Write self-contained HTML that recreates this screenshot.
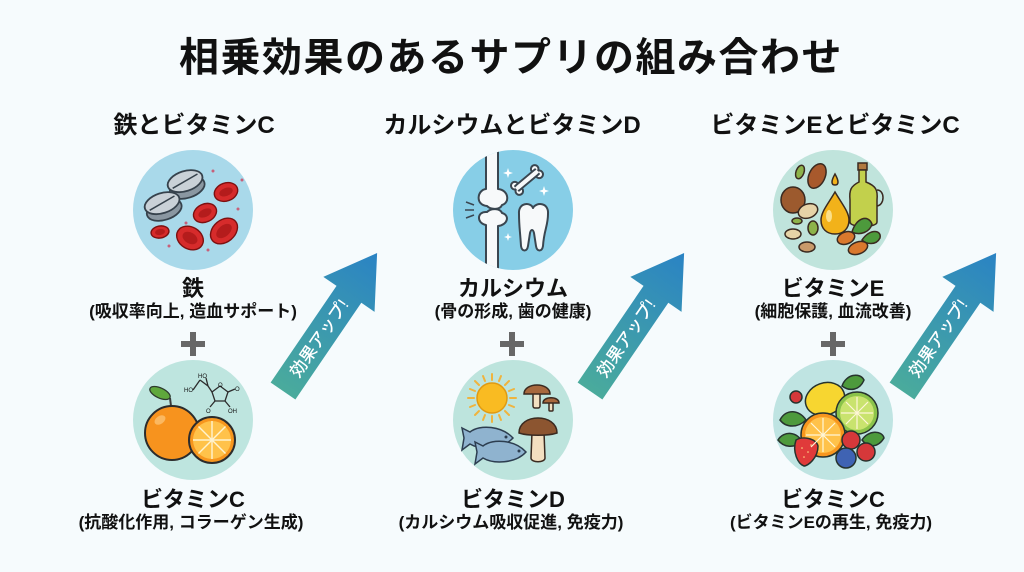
<!DOCTYPE html>
<html><head><meta charset="utf-8">
<style>
html,body{margin:0;padding:0;background:#f6fbfd;}
svg{display:block;}
text{font-family:"Liberation Sans","Noto Sans CJK JP",sans-serif;font-weight:bold;fill:#111;}
</style></head><body>
<svg width="1024" height="572" viewBox="0 0 1024 572" xmlns="http://www.w3.org/2000/svg">
<defs>
<linearGradient id="ag" gradientUnits="userSpaceOnUse" x1="0" y1="0" x2="167" y2="0">
<stop offset="0" stop-color="#4aab9c"/><stop offset="1" stop-color="#2a83c4"/>
</linearGradient>
<clipPath id="c2t"><circle cx="513" cy="210" r="60"/></clipPath>
</defs>
<rect width="1024" height="572" fill="#f6fbfd"/>

<!-- Title -->
<text x="511" y="71" text-anchor="middle" font-size="40" letter-spacing="1.5">相乗効果のあるサプリの組み合わせ</text>

<!-- Subheads -->
<text x="194" y="133" text-anchor="middle" font-size="24">鉄とビタミンC</text>
<text x="512" y="133" text-anchor="middle" font-size="24">カルシウムとビタミンD</text>
<text x="835" y="133" text-anchor="middle" font-size="24">ビタミンEとビタミンC</text>

<!-- ============ Column 1 top: iron ============ -->
<circle cx="193" cy="210" r="60" fill="#a9d9ea"/>
<g stroke="#36424c" stroke-width="1.8">
  <g transform="rotate(-18 186 184)">
    <rect x="168" y="181" width="36" height="7" fill="#8a97a1" stroke="none"/>
    <ellipse cx="186" cy="188" rx="18" ry="10" fill="#8a97a1"/>
    <ellipse cx="186" cy="181" rx="18" ry="10" fill="#c9d1d7"/>
    <line x1="172" y1="184" x2="200" y2="178" stroke-width="1.5"/>
  </g>
  <g transform="rotate(-18 163 206)">
    <rect x="145" y="203" width="36" height="7" fill="#8a97a1" stroke="none"/>
    <ellipse cx="163" cy="210" rx="18" ry="10" fill="#8a97a1"/>
    <ellipse cx="163" cy="203" rx="18" ry="10" fill="#c9d1d7"/>
    <line x1="149" y1="206" x2="177" y2="200" stroke-width="1.5"/>
  </g>
</g>
<g stroke="#7d1010" stroke-width="1.4">
  <ellipse cx="226" cy="192" rx="12" ry="9" fill="#d62b2b" transform="rotate(-20 226 192)"/>
  <ellipse cx="205" cy="213" rx="12" ry="9" fill="#d62b2b" transform="rotate(-25 205 213)"/>
  <ellipse cx="224" cy="231" rx="15" ry="11" fill="#d62b2b" transform="rotate(-40 224 231)"/>
  <ellipse cx="190" cy="238" rx="14" ry="11" fill="#d62b2b" transform="rotate(30 190 238)"/>
  <ellipse cx="160" cy="232" rx="9" ry="6" fill="#d62b2b" transform="rotate(-10 160 232)"/>
</g>
<g fill="#b41c1c">
  <ellipse cx="226" cy="192" rx="7" ry="4" transform="rotate(-20 226 192)"/>
  <ellipse cx="205" cy="213" rx="7" ry="4" transform="rotate(-25 205 213)"/>
  <ellipse cx="224" cy="231" rx="9" ry="5.5" transform="rotate(-40 224 231)"/>
  <ellipse cx="190" cy="238" rx="8" ry="5.5" transform="rotate(30 190 238)"/>
  <ellipse cx="160" cy="232" rx="5" ry="3" transform="rotate(-10 160 232)"/>
</g>
<g fill="#c7607a">
  <circle cx="213" cy="171" r="1.5"/><circle cx="238" cy="209" r="1.5"/><circle cx="186" cy="223" r="1.5"/>
  <circle cx="208" cy="250" r="1.5"/><circle cx="169" cy="246" r="1.5"/><circle cx="242" cy="180" r="1.5"/>
</g>

<text x="193" y="296" text-anchor="middle" font-size="22">鉄</text>
<text x="193" y="317" text-anchor="middle" font-size="17">(吸収率向上, 造血サポート)</text>
<g fill="#676767"><rect x="181" y="341" width="24" height="6"/><rect x="190" y="332" width="6" height="24"/></g>

<!-- ============ Column 1 bottom: vitamin C ============ -->
<circle cx="193" cy="420" r="60" fill="#bee5df"/>
<g stroke="#2c2c2c" stroke-width="1.3" fill="none">
  <line x1="193" y1="390" x2="200" y2="380"/><line x1="200" y1="380" x2="208" y2="386"/>
  <line x1="208" y1="386" x2="206" y2="378"/>
  <polygon points="212,392 220,386 228,392 225,401 215,401"/>
  <line x1="208" y1="386" x2="212" y2="392"/>
  <line x1="228" y1="392" x2="235" y2="389"/>
  <line x1="225" y1="401" x2="230" y2="407"/>
  <line x1="215" y1="401" x2="210" y2="407"/>
</g>
<text x="198" y="378" style="font-size:6px;font-weight:normal">HO</text>
<text x="184" y="392" style="font-size:6px;font-weight:normal">HO</text>
<text x="218" y="387" style="font-size:6px;font-weight:normal">O</text>
<text x="235" y="391" style="font-size:6px;font-weight:normal">O</text>
<text x="206" y="413" style="font-size:6px;font-weight:normal">O</text>
<text x="228" y="413" style="font-size:6px;font-weight:normal">OH</text>
<line x1="171" y1="406" x2="170" y2="398" stroke="#3a3a3a" stroke-width="2"/>
<ellipse cx="160" cy="393" rx="11" ry="5" fill="#5fa83c" stroke="#2d3a2d" stroke-width="1.3" transform="rotate(25 160 393)"/>
<circle cx="172" cy="433" r="27" fill="#f7931e" stroke="#2c2c2c" stroke-width="2"/>
<ellipse cx="160" cy="420" rx="6" ry="4" fill="#fbb860" transform="rotate(-35 160 420)"/>
<circle cx="212" cy="440" r="23" fill="#f7961e" stroke="#2c2c2c" stroke-width="2"/>
<circle cx="212" cy="440" r="19" fill="#ffc24a"/>
<g stroke="#fff3d0" stroke-width="1.4">
  <line x1="212" y1="421" x2="212" y2="459"/><line x1="193" y1="440" x2="231" y2="440"/>
  <line x1="198.5" y1="426.5" x2="225.5" y2="453.5"/><line x1="225.5" y1="426.5" x2="198.5" y2="453.5"/>
</g>

<text x="193" y="507" text-anchor="middle" font-size="22">ビタミンC</text>
<text x="191" y="528" text-anchor="middle" font-size="17">(抗酸化作用, コラーゲン生成)</text>

<!-- Arrow 1 -->
<g transform="translate(283,391) rotate(-55.7)">
  <polygon points="0,-15 117,-15 117,-31 167,0 117,31 117,15 0,15" fill="url(#ag)"/>
  <text x="64" y="6" text-anchor="middle" font-size="17" style="fill:#fff;font-weight:500">効果アップ!</text>
</g>

<!-- ============ Column 2 top: calcium ============ -->
<circle cx="513" cy="210" r="60" fill="#87cee7"/>
<g clip-path="url(#c2t)" stroke="#3a4650" stroke-width="2" fill="#f7f9fa" stroke-linejoin="round">
  <path d="M486,150 L486,189 C477,190 475,205 487,206 C491,210 500,210 502,205 C510,203 509,190 498,189 L498,150 Z"/>
  <path d="M486,225 C476,223 477,211 487,212 C491,208 500,208 502,213 C510,215 508,225 498,226 L498,270 L486,270 Z"/>
  <path d="M519,214 C518,202 531,202 533,208 C536,202 549,202 548,214 C548,226 544,230 543,246 C542,252 537,252 536,246 L534,233 C533,229 531,229 530,233 L528,246 C527,252 522,252 521,246 C520,230 519,226 519,214 Z"/>
  <g transform="rotate(-40 527 180)">
    <circle cx="514" cy="176.5" r="3.8"/><circle cx="514" cy="183.5" r="3.8"/>
    <circle cx="540" cy="176.5" r="3.8"/><circle cx="540" cy="183.5" r="3.8"/>
    <rect x="514" y="177" width="26" height="6"/>
    <rect x="513" y="178" width="28" height="4" stroke="none"/>
  </g>
</g>
<g stroke="#3a4650" stroke-width="1.5"><line x1="466" y1="202" x2="474" y2="205"/><line x1="465" y1="210" x2="474" y2="210"/><line x1="466" y1="218" x2="474" y2="215"/></g>
<g fill="#fff">
  <path d="M508,168 l1.2,3.8 3.8,1.2 -3.8,1.2 -1.2,3.8 -1.2,-3.8 -3.8,-1.2 3.8,-1.2z"/>
  <path d="M544,186 l1.2,3.8 3.8,1.2 -3.8,1.2 -1.2,3.8 -1.2,-3.8 -3.8,-1.2 3.8,-1.2z"/>
  <path d="M508,233 l1,3 3,1 -3,1 -1,3 -1,-3 -3,-1 3,-1z"/>
</g>

<text x="513" y="296" text-anchor="middle" font-size="22">カルシウム</text>
<text x="513" y="317" text-anchor="middle" font-size="17">(骨の形成, 歯の健康)</text>
<g fill="#676767"><rect x="500" y="341" width="24" height="6"/><rect x="509" y="332" width="6" height="24"/></g>

<!-- ============ Column 2 bottom: vitamin D ============ -->
<circle cx="513" cy="420" r="60" fill="#bde4dd"/>
<g stroke="#efb43e" stroke-width="2" stroke-linecap="round">
  <line x1="492" y1="380" x2="492" y2="374"/><line x1="492" y1="416" x2="492" y2="422"/>
  <line x1="474" y1="398" x2="468" y2="398"/><line x1="510" y1="398" x2="516" y2="398"/>
  <line x1="479" y1="385" x2="475" y2="381"/><line x1="505" y1="385" x2="509" y2="381"/>
  <line x1="479" y1="411" x2="475" y2="415"/><line x1="505" y1="411" x2="509" y2="415"/>
  <line x1="485" y1="381" x2="483" y2="376"/><line x1="499" y1="381" x2="501" y2="376"/>
  <line x1="485" y1="415" x2="483" y2="420"/><line x1="499" y1="415" x2="501" y2="420"/>
  <line x1="475" y1="391" x2="470" y2="389"/><line x1="509" y1="391" x2="514" y2="389"/>
  <line x1="475" y1="405" x2="470" y2="407"/><line x1="509" y1="405" x2="514" y2="407"/>
</g>
<circle cx="492" cy="398" r="15" fill="#f9bb22" stroke="#e09a12" stroke-width="1.5"/>
<g stroke="#3a2a20" stroke-width="1.5">
  <rect x="533" y="392" width="7" height="16" rx="2" fill="#f3dfc0"/>
  <path d="M524,394 C524,382 550,382 550,394 Z" fill="#a8683d"/>
  <rect x="549" y="401" width="4" height="10" rx="1" fill="#f3dfc0"/>
  <path d="M543,403 C543,396 559,396 559,403 Z" fill="#a8683d"/>
  <path d="M532,432 L531,458 C531,463 545,463 545,458 L544,432 Z" fill="#f3dfc0"/>
  <path d="M519,433 C519,413 557,413 557,433 C548,436 528,436 519,433 Z" fill="#8c5530"/>
</g>
<g stroke="#2d3e50" stroke-width="1.5" fill="#8fb3cf">
  <path d="M470,432 C480,424 502,426 513,438 C502,450 480,450 470,444 L462,450 L464,438 L462,428 Z"/>
  <path d="M483,446 C493,438 515,440 526,452 C515,464 493,464 483,458 L475,464 L477,452 L475,442 Z"/>
</g>
<circle cx="506" cy="437" r="1.5" fill="#2d3e50"/><circle cx="519" cy="451" r="1.5" fill="#2d3e50"/>

<text x="513" y="507" text-anchor="middle" font-size="22">ビタミンD</text>
<text x="511" y="528" text-anchor="middle" font-size="17">(カルシウム吸収促進, 免疫力)</text>

<!-- Arrow 2 -->
<g transform="translate(590,391) rotate(-55.7)">
  <polygon points="0,-15 117,-15 117,-31 167,0 117,31 117,15 0,15" fill="url(#ag)"/>
  <text x="64" y="6" text-anchor="middle" font-size="17" style="fill:#fff;font-weight:500">効果アップ!</text>
</g>

<!-- ============ Column 3 top: vitamin E ============ -->
<circle cx="833" cy="210" r="60" fill="#c0e4dc"/>
<g stroke="#3a2a20" stroke-width="1.5">
  <ellipse cx="800" cy="172" rx="4" ry="7" fill="#8db34a" transform="rotate(20 800 172)"/>
  <ellipse cx="817" cy="176" rx="8" ry="13" fill="#a8592c" transform="rotate(25 817 176)"/>
  <ellipse cx="793" cy="200" rx="12" ry="13" fill="#9c5a2e"/>
  <ellipse cx="808" cy="211" rx="10" ry="7" fill="#e6d3a7" transform="rotate(-20 808 211)"/>
  <ellipse cx="797" cy="221" rx="5" ry="3" fill="#8db34a"/>
  <ellipse cx="793" cy="234" rx="8" ry="5" fill="#e6d3a7"/>
  <ellipse cx="813" cy="228" rx="5" ry="7" fill="#8db34a"/>
  <ellipse cx="807" cy="247" rx="8" ry="5" fill="#c99a6a"/>
  <path d="M835,174 C831,181 831,185 835,185 C839,185 839,181 835,174 Z" fill="#f2b21a"/>
  <rect x="858" y="163" width="9" height="7" fill="#b07a40"/>
  <path d="M859,170 L866,170 L866,182 C876,186 878,190 877,200 L877,222 C877,228 850,228 850,222 L850,200 C849,190 851,186 859,182 Z" fill="#c2d04c"/>
  <path d="M877,190 C885,190 885,205 877,206" fill="none"/>
  <path d="M835,192 C828,204 821,212 821,220 C821,229 827,234 835,234 C843,234 849,229 849,220 C849,212 842,204 835,192 Z" fill="#f2b21a"/>
  <path d="M852,232 C856,218 868,214 872,224 C870,232 860,236 852,232 Z" fill="#4d9a3c"/>
  <path d="M862,240 C870,228 882,230 880,238 C876,246 866,244 862,240 Z" fill="#4d9a3c"/>
  <ellipse cx="846" cy="238" rx="9" ry="6" fill="#d9782d" transform="rotate(-20 846 238)"/>
  <ellipse cx="858" cy="248" rx="10" ry="6" fill="#d9782d" transform="rotate(-20 858 248)"/>
</g>
<ellipse cx="829" cy="216" rx="3" ry="6" fill="#fbe08a"/>

<text x="833" y="296" text-anchor="middle" font-size="22">ビタミンE</text>
<text x="833" y="317" text-anchor="middle" font-size="17">(細胞保護, 血流改善)</text>
<g fill="#676767"><rect x="821" y="341" width="24" height="6"/><rect x="830" y="332" width="6" height="24"/></g>

<!-- ============ Column 3 bottom: vitamin C fruits ============ -->
<circle cx="833" cy="420" r="60" fill="#bfe4e2"/>
<g stroke="#26332e" stroke-width="1.5">
  <path d="M780,420 C786,408 800,410 806,420 C798,428 786,428 780,420 Z" fill="#4d9a3c"/>
  <path d="M778,440 C784,430 798,432 802,442 C794,448 784,448 778,440 Z" fill="#4d9a3c"/>
  <path d="M842,386 C846,374 860,372 864,380 C860,390 850,392 842,386 Z" fill="#4d9a3c"/>
  <path d="M862,440 C868,430 882,430 884,438 C878,448 868,448 862,440 Z" fill="#4d9a3c"/>
  <ellipse cx="825" cy="399" rx="20" ry="16" fill="#f7d630" transform="rotate(-20 825 399)"/>
  <circle cx="857" cy="413" r="21" fill="#8bc34a"/>
  <circle cx="857" cy="413" r="17" fill="#c9e36e" stroke="none"/>
  <circle cx="823" cy="435" r="22" fill="#f7961e"/>
  <circle cx="823" cy="435" r="18" fill="#ffc24a" stroke="none"/>
  <circle cx="796" cy="397" r="6" fill="#d6383a"/>
  <path d="M796,440 C802,436 816,438 818,446 C818,458 808,466 804,466 C798,464 792,452 796,440 Z" fill="#e03a3a"/>
  <circle cx="851" cy="440" r="9" fill="#d6383a"/>
  <circle cx="866" cy="452" r="9" fill="#d6383a"/>
  <circle cx="846" cy="458" r="10" fill="#3f63b3"/>
</g>
<g stroke="#fff6d8" stroke-width="1.2">
  <line x1="823" y1="418" x2="823" y2="452"/><line x1="806" y1="435" x2="840" y2="435"/>
  <line x1="811" y1="423" x2="835" y2="447"/><line x1="835" y1="423" x2="811" y2="447"/>
  <line x1="857" y1="397" x2="857" y2="429"/><line x1="841" y1="413" x2="873" y2="413"/>
  <line x1="846" y1="402" x2="868" y2="424"/><line x1="868" y1="402" x2="846" y2="424"/>
</g>
<g fill="#ffe08a"><circle cx="802" cy="448" r="0.8"/><circle cx="808" cy="452" r="0.8"/><circle cx="804" cy="457" r="0.8"/><circle cx="811" cy="445" r="0.8"/></g>

<text x="833" y="507" text-anchor="middle" font-size="22">ビタミンC</text>
<text x="831" y="528" text-anchor="middle" font-size="17">(ビタミンEの再生, 免疫力)</text>

<!-- Arrow 3 -->
<g transform="translate(902,391) rotate(-55.7)">
  <polygon points="0,-15 117,-15 117,-31 167,0 117,31 117,15 0,15" fill="url(#ag)"/>
  <text x="64" y="6" text-anchor="middle" font-size="17" style="fill:#fff;font-weight:500">効果アップ!</text>
</g>
</svg>
</body></html>
